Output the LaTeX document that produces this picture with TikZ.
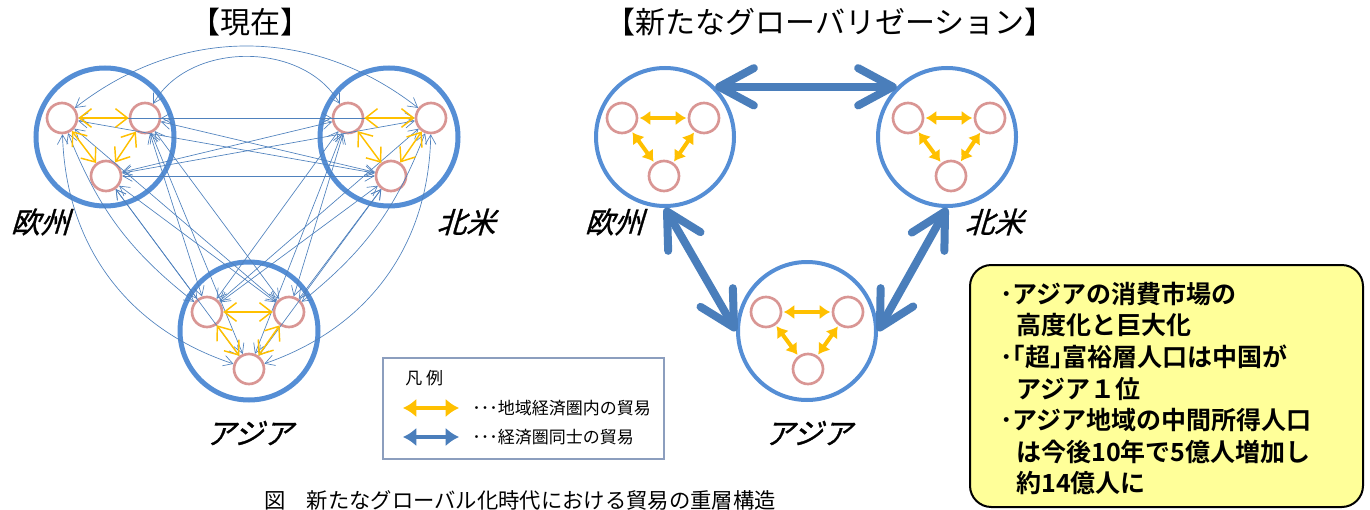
\documentclass[tikz,border=0pt]{standalone}
\usepackage{fontspec}
\newfontfamily\jp{Noto Sans CJK JP}
\newfontfamily\jpit[FakeSlant=0.3,FakeBold=1]{Noto Sans CJK JP}
\newfontfamily\jpb{Noto Sans CJK JP Bold}
\usetikzlibrary{arrows.meta}
\definecolor{cblue}{RGB}{85,142,213}
\definecolor{dblue}{RGB}{74,126,187}
\definecolor{pinkc}{RGB}{217,150,148}
\definecolor{gold}{RGB}{255,192,0}
\definecolor{lyel}{RGB}{255,255,153}
\definecolor{legbd}{RGB}{140,158,190}
\definecolor{thinb}{RGB}{79,129,189}
\tikzset{
  smallc/.style={circle, draw=pinkc, line width=2pt, minimum size=22.5pt, inner sep=0pt},
  bigl/.style={circle, draw=cblue, line width=3.75pt, minimum size=103.5pt, inner sep=0pt},
  bigr/.style={circle, draw=cblue, line width=3pt, minimum size=103.5pt, inner sep=0pt},
  thinarr/.style={draw=thinb, line width=0.5pt, {Straight Barb[length=7pt,width=8pt]}-{Straight Barb[length=7pt,width=8pt]}},
  ylarr/.style={draw=gold, line width=1.1pt, {Straight Barb[length=9pt,width=14pt]}-{Straight Barb[length=9pt,width=14pt]}},
  yrarr/.style={draw=gold, line width=3pt, {Latex[length=8pt,width=11pt]}-{Latex[length=8pt,width=11pt]}, shorten <=1pt, shorten >=1pt},
  bigarr/.style={draw=dblue, line width=6pt, {Straight Barb[length=26pt,width=28pt,round]}-{Straight Barb[length=26pt,width=28pt,round]}},
  legy/.style={draw=gold, line width=3.5pt, {Latex[length=10pt,width=14pt]}-{Latex[length=10pt,width=14pt]}},
  legb/.style={draw=dblue, line width=3.5pt, {Latex[length=10pt,width=14pt]}-{Latex[length=10pt,width=14pt]}},
  title/.style={font=\jp\fontsize{22.5}{26}\selectfont},
  region/.style={font=\jpit\fontsize{22}{26}\selectfont},
  legtext/.style={font=\jp\fontsize{12.75}{15}\selectfont, anchor=west, inner sep=0pt},
  boxtext/.style={font=\jpb\fontsize{18.75}{22}\selectfont, anchor=west, inner sep=0pt},
}
\begin{document}
\begin{tikzpicture}[x=0.75pt,y=-0.75pt]
\useasboundingbox (0,0) rectangle (1370,510);
\clip (0,0) rectangle (1370,510);

% ---------- titles ----------
\node[title] (t1) at (250,22) {【現在】};
\node[title] (t2) at (830,22) {【新たなグローバリゼーション】};

% ---------- left diagram ----------
\node[bigl] (LE) at (105,137) {};
\node[bigl] (LN) at (389,137) {};
\node[bigl] (LA) at (249,331) {};
\node[smallc] (e1) at (62,118) {};
\node[smallc] (e2) at (145,118) {};
\node[smallc] (e3) at (106,176) {};
\node[smallc] (n1) at (348,118) {};
\node[smallc] (n2) at (431,118) {};
\node[smallc] (n3) at (391,176) {};
\node[smallc] (a1) at (207,312) {};
\node[smallc] (a2) at (289,312) {};
\node[smallc] (a3) at (249,369) {};

% inter-regional trade (thin)
\draw[thinarr] (e1) to[bend left=38] (n2);
\draw[thinarr] (e2) to[bend left=60] (n1);
\draw[thinarr] (e1) -- (n1);
\draw[thinarr] (e1) -- (n3);
\draw[thinarr] (e2) -- (n2);
\draw[thinarr] (e2) -- (n3);
\draw[thinarr] (e3) -- (n1);
\draw[thinarr] (e3) -- (n2);
\draw[thinarr] (e3) -- (n3);

\draw[thinarr] (e1) to[bend right=35] (a3);
\draw[thinarr] (e1) to[bend right=15] (a1);
\draw[thinarr] (e1) -- (a2);
\draw[thinarr] (e2) -- (a1);
\draw[thinarr] (e2) -- (a2);
\draw[thinarr] (e2) -- (a3);
\draw[thinarr] (e3) -- (a1);
\draw[thinarr] (e3) -- (a2);
\draw[thinarr] (e3) -- (a3);

\draw[thinarr] (n2) to[bend left=35] (a3);
\draw[thinarr] (n2) to[bend left=15] (a2);
\draw[thinarr] (n2) -- (a1);
\draw[thinarr] (n1) -- (a1);
\draw[thinarr] (n1) -- (a2);
\draw[thinarr] (n1) -- (a3);
\draw[thinarr] (n3) -- (a1);
\draw[thinarr] (n3) -- (a2);
\draw[thinarr] (n3) -- (a3);

% intra-regional (thin yellow)
\draw[ylarr] (e1) -- (e2);
\draw[ylarr] (e1) -- (e3);
\draw[ylarr] (e2) -- (e3);
\draw[ylarr] (n1) -- (n2);
\draw[ylarr] (n1) -- (n3);
\draw[ylarr] (n2) -- (n3);
\draw[ylarr] (a1) -- (a2);
\draw[ylarr] (a1) -- (a3);
\draw[ylarr] (a2) -- (a3);

\node[region] (le) at (40,222) {欧州};
\node[region] (ln) at (466,222) {北米};
\node[region] (la) at (249,433) {アジア};

% ---------- right diagram ----------
\node[bigr] (RE) at (665,137) {};
\node[bigr] (RN) at (947,137) {};
\node[bigr] (RA) at (807,331) {};
\node[smallc] (f1) at (622,118) {};
\node[smallc] (f2) at (704,118) {};
\node[smallc] (f3) at (664,176) {};
\node[smallc] (m1) at (908,118) {};
\node[smallc] (m2) at (990,118) {};
\node[smallc] (m3) at (951,176) {};
\node[smallc] (b1) at (766,312) {};
\node[smallc] (b2) at (848,312) {};
\node[smallc] (b3) at (808,369) {};

\draw[yrarr] (f1) -- (f2);
\draw[yrarr] (f1) -- (f3);
\draw[yrarr] (f2) -- (f3);
\draw[yrarr] (m1) -- (m2);
\draw[yrarr] (m1) -- (m3);
\draw[yrarr] (m2) -- (m3);
\draw[yrarr] (b1) -- (b2);
\draw[yrarr] (b1) -- (b3);
\draw[yrarr] (b2) -- (b3);

\draw[bigarr] (RE.45) -- (RN.135);
\draw[bigarr] (RE.south) -- (RA.west);
\draw[bigarr] (RN.south) -- (RA.east);

\node[region] (re) at (614,222) {欧州};
\node[region] (rn) at (994,222) {北米};
\node[region] (ra) at (808,433) {アジア};

% ---------- legend ----------
\node[draw=legbd, line width=0.8pt, minimum width=210.75pt, minimum height=75.75pt, inner sep=0pt] (leg) at (523.5,408.5) {};
\node[legtext] (lt) at (405,378) {凡 例};
\coordinate (ly1) at (403,408);
\coordinate (ly2) at (459,408);
\coordinate (lb1) at (403,437);
\coordinate (lb2) at (459,437);
\draw[legy] (ly1) -- (ly2);
\draw[legb] (lb1) -- (lb2);
\node[legtext] (l1) at (472,408) {･･･地域経済圏内の貿易};
\node[legtext] (l2) at (472,437) {･･･経済圏同士の貿易};

% ---------- yellow box ----------
\node[draw=black, line width=1.5pt, fill=lyel, rounded corners=16pt, minimum width=294.75pt, minimum height=181.5pt, inner sep=0pt] (box) at (1166.5,386) {};
\node[boxtext] (b1t) at (1000,294) {･アジアの消費市場の};
\node[boxtext] (b2t) at (1016,325.5) {高度化と巨大化};
\node[boxtext] (b3t) at (1000,357) {･｢超｣富裕層人口は中国が};
\node[boxtext] (b4t) at (1016,388.5) {アジア１位};
\node[boxtext] (b5t) at (1000,420) {･アジア地域の中間所得人口};
\node[boxtext] (b6t) at (1016,451.5) {は今後10年で5億人増加し};
\node[boxtext] (b7t) at (1016,483) {約14億人に};

% ---------- caption ----------
\node[font=\jp\fontsize{16}{19}\selectfont] (cap) at (520,500) {図　新たなグローバル化時代における貿易の重層構造};
\end{tikzpicture}
\end{document}
